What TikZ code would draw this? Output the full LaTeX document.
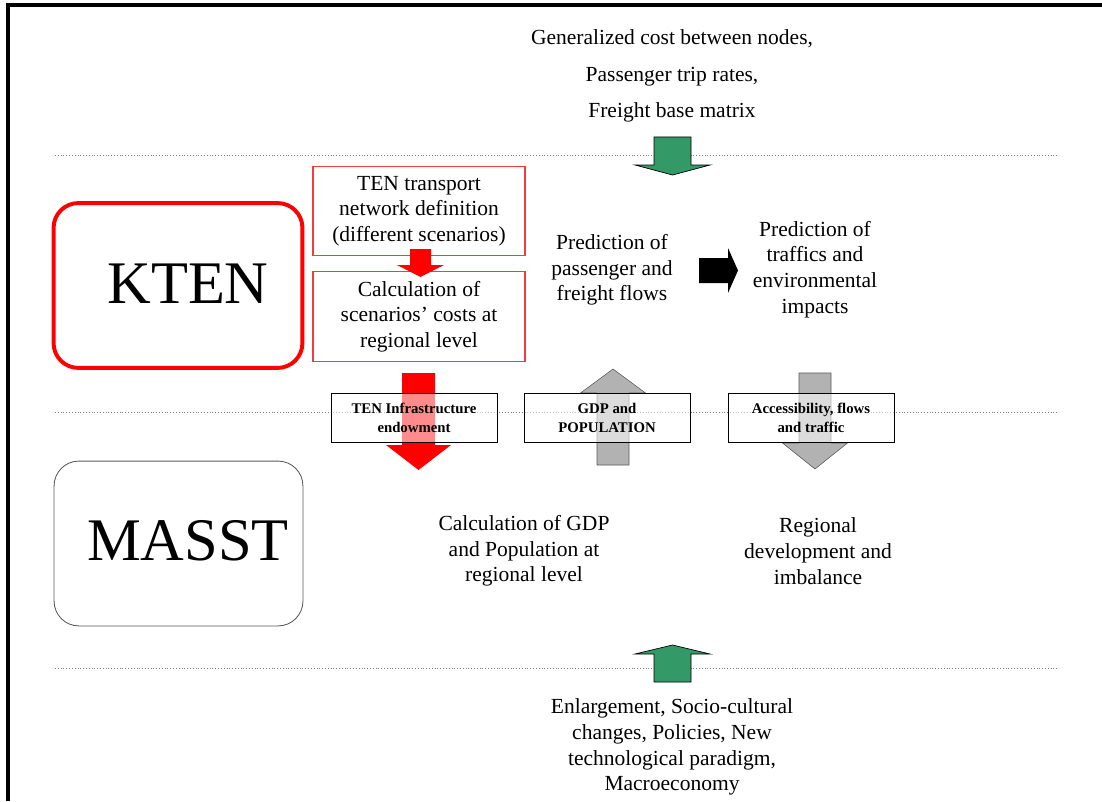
\documentclass[tikz,border=0pt]{standalone}
\usepackage{fontspec}
\setmainfont{Liberation Serif}

\definecolor{flowgreen}{RGB}{51,153,102}
\definecolor{flowgray}{RGB}{178,178,178}
\definecolor{boxred}{RGB}{245,60,60}

\tikzset{
  pics/block_arrow/.style args={#1,#2,#3,#4}{
     code={
        \path[pic actions] (-#1,0) -- (-#1,#3) -- (-#2,#3) -- (0,#4) -- (#2,#3) -- (#1,#3) -- (#1,0) -- cycle;
     }
  },
  sep_line/.style={gray, line width=0.5pt, dash pattern=on 0.6pt off 1.4pt},
  plain_text/.style={align=center, font=\fontsize{15.3}{18.3}\selectfont},
  model_box/.style={rounded corners=0.62cm, minimum width=6.22cm, minimum height=4.12cm},
  model_text/.style={font=\fontsize{43}{46}\selectfont},
  red_box/.style={draw=boxred, line width=0.8pt, align=center, minimum width=5.3cm, minimum height=2.24cm,
     font=\fontsize{15.3}{18.3}\selectfont},
  link_box/.style={draw, line width=0.5pt, fill=white, fill opacity=0.55, text opacity=1, align=center,
     minimum width=4.15cm, minimum height=1.22cm, font=\bfseries\fontsize{10.5}{13.5}\selectfont}
}

\begin{document}
\begin{tikzpicture}[x=0.025cm, y=-0.025cm]
            \useasboundingbox (0,0) rectangle (1102,801);
            \draw[line width=2.8pt] (8,801) -- (8,5) -- (1102,5);
            \foreach \y in {155,412,668}
               \draw[sep_line] (55,\y) -- (1058,\y);

            \node[plain_text, font=\fontsize{15.3}{26.2}\selectfont] (gencost) at (672,76)
               {Generalized cost between nodes,\\Passenger trip rates,\\Freight base matrix};
            \node[plain_text] (exog) at (672,747)
               {Enlargement, Socio-cultural\\changes, Policies, New\\technological paradigm,\\Macroeconomy};

            \node[model_box, draw=red, line width=2.8pt] (kten) at (178,285.5) {};
            \node[model_text] (kten_label) at (188,284) {KTEN};
            \node[model_box, draw=gray!70!black, line width=0.6pt] (masst) at (178.5,543.5) {};
            \node[model_text] (masst_label) at (188,541) {MASST};

            \node[red_box] (tenbox) at (419,211) {TEN transport\\network definition\\(different scenarios)};
            \node[red_box] (calcbox) at (419,316.5) {Calculation of\\scenarios' costs at\\regional level};
            \node[plain_text] (passflow) at (612,270) {Prediction of\\passenger and\\freight flows};
            \node[plain_text] (traffic) at (815,269.5) {Prediction of\\traffics and\\environmental\\impacts};
            \node[plain_text] (gdpcalc) at (524,551) {Calculation of GDP\\and Population at\\regional level};
            \node[plain_text] (regdev) at (818,551) {Regional\\development and\\imbalance};

            \draw (672.5,137) pic[fill=flowgreen, draw=black, line width=0.5pt]{block_arrow={18.5,37.5,28,38}};
            \draw (672.5,682) pic[rotate=180, fill=flowgreen, draw=black, line width=0.5pt]{block_arrow={18.5,37.5,28,37}};
            \draw (420.5,249) pic[fill=red]{block_arrow={10.5,23.5,16,28}};
            \draw (699,270.5) pic[rotate=90, fill=black]{block_arrow={12.5,22.5,29,39}};
            \draw (418.5,373) pic[fill=red]{block_arrow={16.5,32.5,72,97}};
            \draw (613,465) pic[rotate=180, fill=flowgray, draw=gray!70!black, line width=0.4pt]{block_arrow={16,32.5,72,96}};
            \draw (815,373) pic[fill=flowgray, draw=gray!70!black, line width=0.4pt]{block_arrow={16,32.5,70,96}};

            \node[link_box] (infra) at (414,417.5) {TEN Infrastructure\\endowment};
            \node[link_box] (gdppop) at (607,417.5) {GDP and\\POPULATION};
            \node[link_box] (access) at (811,417.5) {Accessibility, flows\\and traffic};
        \end{tikzpicture}
\end{document}
